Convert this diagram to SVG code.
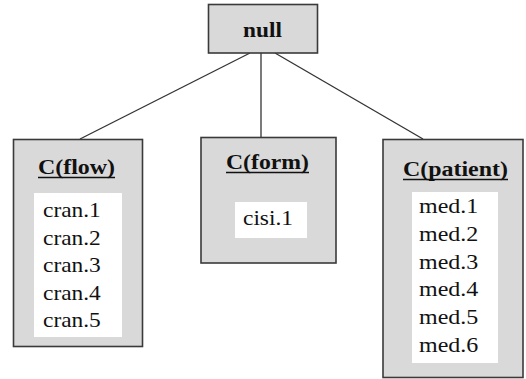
<svg xmlns="http://www.w3.org/2000/svg" width="526" height="379" viewBox="0 0 526 379">
<style>
.box{fill:#d9d9d9;stroke:#3a3a3a;stroke-width:1.6}
.inner{fill:#ffffff}
.ul{stroke:#111;stroke-width:1.5}
.conn{stroke:#333;stroke-width:1.3;fill:none}
</style>
<rect width="526" height="379" fill="#ffffff"/>
<g id="connectors">
<line class="conn" x1="250" y1="53" x2="80" y2="139"/>
<line class="conn" x1="261" y1="53" x2="261" y2="138"/>
<line class="conn" x1="275" y1="53" x2="423" y2="139"/>
</g>
<g id="null">
<rect class="box" x="208.5" y="4.5" width="109" height="48.5"/>
<text transform="translate(243,37) scale(1.11,1)" font-family="Liberation Serif, serif" font-size="21" font-weight="bold" fill="#111">null</text>
</g>
<g id="flow">
<rect class="box" x="13.5" y="139.5" width="129" height="207"/>
<text transform="translate(38,174) scale(1.14,1)" font-family="Liberation Serif, serif" font-size="21" font-weight="bold" fill="#111">C(flow)</text>
<line class="ul" x1="38" y1="177.5" x2="115" y2="177.5"/>
<rect class="inner" x="34" y="193" width="88" height="144"/>
<g font-family="Liberation Serif, serif" font-size="20" fill="#111">
<text transform="translate(43,217) scale(1.17,1)">cran.1</text>
<text transform="translate(43,244.5) scale(1.17,1)">cran.2</text>
<text transform="translate(43,272) scale(1.17,1)">cran.3</text>
<text transform="translate(43,299.5) scale(1.17,1)">cran.4</text>
<text transform="translate(43,327) scale(1.17,1)">cran.5</text>
</g>
</g>
<g id="form">
<rect class="box" x="201" y="137.5" width="135" height="125.5"/>
<text transform="translate(226,169) scale(1.13,1)" font-family="Liberation Serif, serif" font-size="21" font-weight="bold" fill="#111">C(form)</text>
<line class="ul" x1="226" y1="172.5" x2="309" y2="172.5"/>
<rect class="inner" x="235" y="202" width="72" height="36"/>
<text transform="translate(243,225) scale(1.17,1)" font-family="Liberation Serif, serif" font-size="20" fill="#111">cisi.1</text>
</g>
<g id="patient">
<rect class="box" x="383" y="139.5" width="140" height="238"/>
<text transform="translate(403,176) scale(1.14,1)" font-family="Liberation Serif, serif" font-size="21" font-weight="bold" fill="#111">C(patient)</text>
<line class="ul" x1="403" y1="179.5" x2="508" y2="179.5"/>
<rect class="inner" x="412" y="192" width="86" height="171"/>
<g font-family="Liberation Serif, serif" font-size="20" fill="#111">
<text transform="translate(419,213) scale(1.2,1)">med.1</text>
<text transform="translate(419,240.8) scale(1.2,1)">med.2</text>
<text transform="translate(419,268.6) scale(1.2,1)">med.3</text>
<text transform="translate(419,296.4) scale(1.2,1)">med.4</text>
<text transform="translate(419,324.2) scale(1.2,1)">med.5</text>
<text transform="translate(419,352) scale(1.2,1)">med.6</text>
</g>
</g>
</svg>
